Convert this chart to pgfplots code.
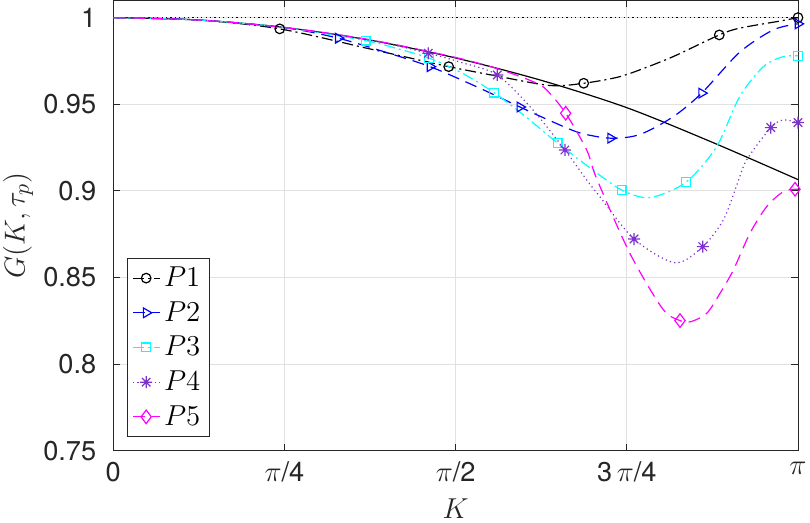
\documentclass[border=0pt]{standalone}
\usepackage{pgfplots}
\pgfplotsset{compat=1.18}
\usepackage{fontspec}
\setmainfont{TeX Gyre Heros}
\definecolor{axc}{RGB}{38,38,38}
\definecolor{gridc}{RGB}{225,225,225}
\definecolor{pone}{RGB}{0,0,0}
\definecolor{ptwo}{RGB}{0,0,255}
\definecolor{pthree}{RGB}{0,255,255}
\definecolor{pfour}{RGB}{125,50,205}
\definecolor{pfive}{RGB}{255,0,255}
\pgfdeclareplotmark{mstar}{%
 \pgfpathmoveto{\pgfqpoint{-\pgfplotmarksize}{0pt}}\pgfpathlineto{\pgfqpoint{\pgfplotmarksize}{0pt}}%
 \pgfpathmoveto{\pgfqpoint{0pt}{-\pgfplotmarksize}}\pgfpathlineto{\pgfqpoint{0pt}{\pgfplotmarksize}}%
 \pgfpathmoveto{\pgfqpoint{-.707\pgfplotmarksize}{-.707\pgfplotmarksize}}\pgfpathlineto{\pgfqpoint{.707\pgfplotmarksize}{.707\pgfplotmarksize}}%
 \pgfpathmoveto{\pgfqpoint{-.707\pgfplotmarksize}{.707\pgfplotmarksize}}\pgfpathlineto{\pgfqpoint{.707\pgfplotmarksize}{-.707\pgfplotmarksize}}%
 \pgfusepathqstroke}
\begin{document}
\begin{tikzpicture}
\begin{axis}[
 name=ax,
 scale only axis,
 width=342.35pt, height=225.2pt,
 xmin=0, xmax=3.14159265,
 ymin=0.75, ymax=1.01,
 xtick={0,0.785398,1.570796,2.356194,3.141593},
 xticklabels={0,{$\pi$/4},{$\pi$/2},{3\,$\pi$/4},{$\pi$}},
 ytick={0.75,0.8,0.85,0.9,0.95,1},
 yticklabels={0.75,0.8,0.85,0.9,0.95,1},
 grid=major,
 major grid style={color=gridc, line width=0.5pt},
 axis line style={color=axc, line width=0.5pt},
 tick style={color=axc, line width=0.5pt},
 major tick length=3.5pt,
 tick align=inside,
 xticklabel style={font=\fontsize{13.6}{15}\selectfont, text=axc, yshift=-2pt},
 yticklabel style={font=\fontsize{13.6}{15}\selectfont, text=axc, xshift=-5pt},
 xlabel={$K$}, ylabel={$G(K,\tau_p)$},
 xlabel style={at={(axis description cs:0.5,-0.151)}, anchor=base, font=\fontsize{15.5}{17}\selectfont, text=axc},
 ylabel style={at={(axis description cs:-0.139,0.5)}, anchor=center, font=\fontsize{15.5}{17}\selectfont, text=axc},
 clip=false,
 legend style={at={(0,0)}, anchor=south west, xshift=6.7pt, yshift=7pt, draw=axc, line width=0.5pt,
   font=\fontsize{15.5}{17}\selectfont, inner xsep=2.5pt, inner ysep=2pt, row sep=2pt},
 legend cell align=left,
 legend image code/.code={\draw[#1, mark indices={2}] plot coordinates {(0cm,0cm) (0.235cm,0cm) (0.47cm,0cm)};},
]
% reference curves
\addplot[black, line width=0.6pt, smooth, forget plot] coordinates {
(0,1.0) (0.3927,0.9986) (0.7854,0.9943) (1.1781,0.9870) (1.5708,0.9767)
(1.9635,0.9638) (2.3562,0.9480) (2.7489,0.9280) (3.1416,0.9065)};
\addplot[black, line width=0.6pt, dash pattern=on 0.6pt off 1.6pt, forget plot] coordinates {(0,1) (3.1416,1)};
% P1
\addplot[pone, line width=0.6pt, smooth, dash pattern=on 5.5pt off 2pt on 1pt off 2pt,
  mark=o, mark size=2.4pt, mark options={solid}, mark indices={3,6,9,13,16}] coordinates {
(0,1.0) (0.3927,0.9986) (0.7636,0.9935) (1.1781,0.9819) (1.3160,0.9780)
(1.5389,0.9717) (1.7590,0.9663) (2.0040,0.9608) (2.1584,0.9621) (2.3110,0.9655)
(2.4150,0.9698) (2.5690,0.9775) (2.7805,0.9900) (2.8740,0.9939) (3.0580,0.9980) (3.1416,1.0000)};
\addlegendentry{$P1$}
% P2
\addplot[ptwo, line width=0.6pt, smooth, dash pattern=on 6pt off 3.5pt,
  mark=triangle, mark size=2.8pt, mark options={solid, rotate=-90}, mark indices={4,6,8,11,14,17}] coordinates {
(0,1.0) (0.3927,0.9986) (0.7854,0.9942) (1.0324,0.9881) (1.2500,0.9800)
(1.4532,0.9717) (1.6600,0.9605) (1.8658,0.9484) (2.0040,0.9405) (2.1400,0.9335)
(2.2820,0.9304) (2.4150,0.9325) (2.5690,0.9428) (2.6995,0.9564) (2.8740,0.9800)
(3.0280,0.9929) (3.1416,0.9964)};
\addlegendentry{$P2$}
% P3
\addplot[pthree, line width=0.6pt, smooth, dash pattern=on 5.5pt off 2pt on 1pt off 2pt,
  mark=square, mark size=2.2pt, mark options={solid}, mark indices={4,6,8,10,12,14,19}] coordinates {
(0,1.0) (0.3927,0.9986) (0.7854,0.9943) (1.1580,0.9867) (1.3000,0.9822)
(1.4498,0.9766) (1.6000,0.9680) (1.7466,0.9567) (1.8900,0.9430) (2.0389,0.9275)
(2.1900,0.9130) (2.3325,0.9005) (2.4625,0.8961) (2.6275,0.9050) (2.7680,0.9255)
(2.8740,0.9544) (2.9830,0.9717) (3.0740,0.9775) (3.1416,0.9779)};
\addlegendentry{$P3$}
% P4
\addplot[pfour, line width=0.6pt, smooth, dash pattern=on 0.6pt off 1.6pt,
  mark=mstar, mark size=3pt, mark options={solid}, mark indices={5,7,9,12,14,18,20}] coordinates {
(0,1.0) (0.3927,0.9986) (0.7854,0.9943) (1.1781,0.9870) (1.4453,0.9794)
(1.6000,0.9740) (1.7618,0.9669) (1.9200,0.9475) (2.0722,0.9236) (2.1720,0.9063)
(2.2300,0.8970) (2.3894,0.8722) (2.5772,0.8585) (2.7046,0.8678) (2.7990,0.8832)
(2.8600,0.9030) (2.9060,0.9178) (3.0169,0.9365) (3.0740,0.9409) (3.1416,0.9394)};
\addlegendentry{$P4$}
% P5
\addplot[pfive, line width=0.6pt, smooth, dash pattern=on 6pt off 3.5pt,
  mark=diamond, mark size=3.4pt, mark options={solid}, mark indices={9,14,22}] coordinates {
(0,1.0) (0.3927,0.9986) (0.7854,0.9943) (1.1781,0.9872) (1.5708,0.9770)
(1.7750,0.9700) (1.9270,0.9630) (1.9880,0.9583) (2.0756,0.9448) (2.1720,0.9236)
(2.2180,0.9070) (2.3700,0.8640) (2.5200,0.8320) (2.6003,0.8251) (2.6500,0.8245)
(2.7230,0.8293) (2.7840,0.8409) (2.8450,0.8543) (2.9210,0.8755) (2.9980,0.8909)
(3.0740,0.8995) (3.1280,0.9009) (3.1416,0.9009)};
\addlegendentry{$P5$}
\end{axis}
\pgfresetboundingbox
\path[use as bounding box] (ax.south west) ++(-56.65pt,-36pt) rectangle ([shift={(6pt,0.15pt)}]ax.north east);
\end{tikzpicture}
\end{document}
